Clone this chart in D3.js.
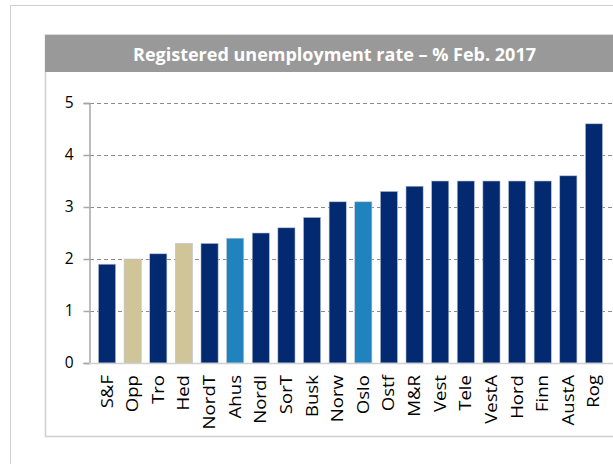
<!DOCTYPE html>
<html>
<head>
<meta charset="utf-8">
<script src="https://cdn.jsdelivr.net/npm/d3@7"></script>
<style>
  body { margin: 0; background: #fff; }
  svg { display: block; font-family: "Open Sans", sans-serif; }
</style>
</head>
<body>
<div class="canvas"></div>
<script>
const regions = ["S&F", "Opp", "Tro", "Hed", "NordT", "Ahus", "Nordl", "SorT", "Busk", "Norw",
  "Oslo", "Ostf", "M&R", "Vest", "Tele", "VestA", "Hord", "Finn", "AustA", "Rog"];
const rates = [1.9, 2.0, 2.1, 2.3, 2.3, 2.4, 2.5, 2.6, 2.8, 3.1,
  3.1, 3.3, 3.4, 3.5, 3.5, 3.5, 3.5, 3.5, 3.6, 4.6];
// colour group per bar: 0 = navy, 1 = tan, 2 = light blue
const groups = [0, 1, 0, 1, 0, 2, 0, 0, 0, 0,
  2, 0, 0, 0, 0, 0, 0, 0, 0, 0];
const yTicks = [0, 1, 2, 3, 4, 5];
const title = "Registered unemployment rate \u2013 % Feb. 2017";

const width = 613;
const height = 464;
const colors = ["#032a70", "#d0c598", "#2083bd"];

const svg = d3.select(".canvas").append("svg")
  .attr("width", width)
  .attr("height", height);

// outer frame
svg.append("rect")
  .attr("x", 10.5).attr("y", 5.5)
  .attr("width", 700).attr("height", 600)
  .attr("fill", "none").attr("stroke", "#cfcfcf").attr("stroke-width", 1);

// inner panel
svg.append("rect")
  .attr("x", 45.5).attr("y", 35)
  .attr("width", 700).attr("height", 401.5)
  .attr("fill", "#fff").attr("stroke", "#cfcfcf").attr("stroke-width", 1.5);

// title bar
svg.append("rect")
  .attr("x", 45).attr("y", 35)
  .attr("width", 700).attr("height", 37)
  .attr("fill", "#999999");

svg.append("text")
  .attr("x", 334.5).attr("y", 61)
  .attr("text-anchor", "middle")
  .attr("fill", "#fff")
  .attr("font-weight", "bold")
  .attr("font-size", 18)
  .text(title);

const x = d3.scaleBand()
  .domain(regions)
  .range([90, 611])
  .padding(0.33);

const y = d3.scaleLinear()
  .domain([0, 5])
  .range([363, 103]);

// gridlines
svg.append("g")
  .selectAll("line")
  .data(yTicks.filter((d) => d > 0))
  .enter()
  .append("line")
  .attr("x1", 90).attr("x2", width)
  .attr("y1", (d) => Math.round(y(d)) + 0.5)
  .attr("y2", (d) => Math.round(y(d)) + 0.5)
  .attr("stroke", "#8c8c8c")
  .attr("stroke-dasharray", "4,3");

// bars
svg.append("g")
  .selectAll("rect")
  .data(rates)
  .enter()
  .append("rect")
  .attr("x", (d, i) => x(regions[i]))
  .attr("y", (d) => y(d))
  .attr("width", x.bandwidth())
  .attr("height", (d) => y(0) - y(d))
  .attr("fill", (d, i) => colors[groups[i]])
  .attr("stroke", "#b9c3d6")
  .attr("stroke-width", 0.6);

// y axis
const yAxis = svg.append("g")
  .attr("transform", "translate(89.5,0)")
  .call(d3.axisLeft(y).tickValues(yTicks).tickSize(6).tickPadding(10).tickFormat(d3.format("d")));
yAxis.select(".domain").attr("stroke", "#a6a6a6").attr("stroke-width", 1.5);
yAxis.selectAll(".tick line").attr("stroke", "#a6a6a6").attr("stroke-width", 1.5);
yAxis.selectAll("text")
  .attr("font-size", 15.5)
  .attr("font-family", "Open Sans, sans-serif")
  .attr("fill", "#000");

// x baseline
svg.append("line")
  .attr("x1", 89).attr("x2", width)
  .attr("y1", y(0) + 0.5).attr("y2", y(0) + 0.5)
  .attr("stroke", "#d0d0d0")
  .attr("stroke-width", 1.5);

// x labels (stretched a little along their length, as in the source picture)
svg.append("g")
  .selectAll("text")
  .data(regions)
  .enter()
  .append("text")
  .attr("transform", (d) => `translate(${x(d) + x.bandwidth() / 2 + 5.5}, 375) rotate(-90) scale(1.2, 1)`)
  .attr("text-anchor", "end")
  .attr("font-size", 15.5)
  .attr("fill", "#000")
  .text((d) => d);
</script>
</body>
</html>
